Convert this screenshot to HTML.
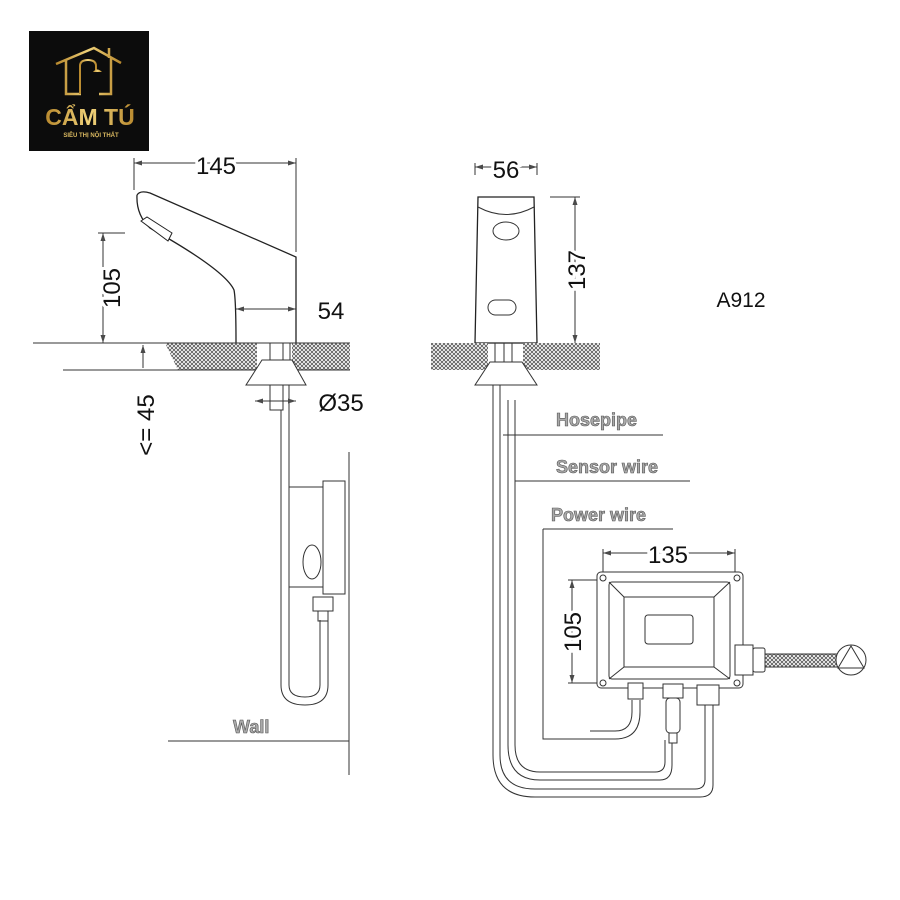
<!DOCTYPE html>
<html><head><meta charset="utf-8"><style>
html,body{margin:0;padding:0;background:#fff;width:900px;height:900px;overflow:hidden}
</style></head><body>
<svg width="900" height="900" viewBox="0 0 900 900" xmlns="http://www.w3.org/2000/svg" font-family="Liberation Sans, DejaVu Sans, sans-serif">
<defs>
<pattern id="h" width="4" height="4" patternUnits="userSpaceOnUse">
<rect width="4" height="4" fill="#fff"/><path d="M0 0L4 4M4 0L0 4" stroke="#555" stroke-width="0.8"/>
</pattern>
<linearGradient id="g" x1="0" x2="1"><stop offset="0" stop-color="#b8892e"/><stop offset="0.5" stop-color="#f0d27a"/><stop offset="1" stop-color="#b8892e"/></linearGradient>
</defs>
<!-- logo -->
<rect x="29" y="31" width="120" height="120" fill="#0c0c0c"/>
<path d="M56 64 L94 48 L121 63 M66 60 V94 H81 M99 94 H111 V57 M109 48 V58" stroke="url(#g)" stroke-width="2.5" fill="none"/>
<path d="M80 94 V66 Q80 60 88 60 Q96 60 96 66 V70" stroke="url(#g)" stroke-width="2" fill="none"/>
<path d="M93 72 Q97 67 102 72 Z" fill="url(#g)"/>
<path d="M92 90 V94" stroke="url(#g)" stroke-width="2"/>
<text x="90" y="125" text-anchor="middle" font-size="23" font-weight="bold" fill="url(#g)">CẨM TÚ</text>
<text x="91" y="137" text-anchor="middle" font-size="6" font-weight="bold" fill="#d9b860">SIÊU THỊ NỘI THẤT</text>

<g stroke="#333" stroke-width="1" fill="none">
<path d="M134 163H296M134 158V190M296 158V252"/>
<path d="M103 233V343M98 233H125"/>
<path d="M236 309H296"/>
<path d="M137 195 Q140 190 150 193 L296 257 V343 M137 195 Q136 215 150 228 Q225 270 234 290 Q236 300 236 343" stroke="#222" stroke-width="1.3"/>
<path d="M141 221 L147 217 L172 233 L168 241 Z" fill="#fff" stroke="#222"/>
<path d="M165 343H257V370H178Z" fill="url(#h)" stroke="none"/>
<path d="M292 343H350V370H292Z" fill="url(#h)" stroke="none"/>
<path d="M33 343H350M63 370H350"/>
<path d="M143 345V368"/>
<path d="M262 360H292L306 385H246Z" fill="#fff"/>
<path d="M270 343V360M283 343V360M290 343V360"/>
<path d="M270 385V410H283V385"/>
<path d="M255 401H296"/>
<path d="M281 410V685 Q281 705 305 705 Q328 705 328 685V620M289 385V685 Q289 697 305 697 Q320 697 320 685V620"/>
<rect x="289" y="487" width="34" height="100" fill="#fff"/>
<rect x="323" y="481" width="22" height="113" fill="#fff"/>
<ellipse cx="312" cy="562" rx="9" ry="17" fill="#fff"/>
<rect x="313" y="597" width="20" height="14" fill="#fff"/>
<rect x="318" y="611" width="10" height="10"/>
<path d="M349 452V775M168 741H349"/>
<path d="M475 167H537M475 163V175M537 163V175"/>
<path d="M478 197H534L537 343H475Z" fill="#fff" stroke="#222" stroke-width="1.3"/>
<path d="M478 207 Q506 222 534 207"/>
<ellipse cx="506" cy="231" rx="13" ry="9"/>
<rect x="488" y="300" width="28" height="15" rx="7.5"/>
<path d="M550 197H580M575 197V343"/>
<path d="M431 343H488V370H431Z" fill="url(#h)" stroke="none"/>
<path d="M523 343H600V370H523Z" fill="url(#h)" stroke="none"/>
<path d="M490 362H522L537 385H475Z" fill="#fff"/>
<path d="M495 343V362M504 343V362M512 343V362"/>
<path d="M493 385V755 Q493 797 535 797H700 Q713 797 713 785V700"/>
<path d="M500 385V755 Q500 789 535 789H695 Q705 789 705 780V700"/>
<path d="M508 400V745 Q508 780 540 780H660 Q672 780 672 765V740"/>
<path d="M515 400V745 Q515 772 540 772H655 Q665 772 665 762V740"/>
<path d="M503 435H663M515 481H690M543 529H673M543 529V739H590"/>
<path d="M590 731H615 Q632 731 632 712V700M590 739H615 Q640 739 640 712V700"/>
<path d="M603 553H735M603 549V572M735 549V572"/>
<path d="M568 580H598M568 683H598M572 580V683"/>
<rect x="597" y="572" width="146" height="116" rx="4" fill="#fff"/>
<rect x="609" y="582" width="121" height="97" rx="3"/>
<rect x="624" y="597" width="90" height="70"/>
<path d="M609 582L624 597M730 582L714 597M609 679L624 667M730 679L714 667"/>
<rect x="645" y="615" width="48" height="29" rx="3"/>
<circle cx="603" cy="578" r="3"/><circle cx="737" cy="578" r="3"/><circle cx="603" cy="683" r="3"/><circle cx="737" cy="683" r="3"/>
<rect x="735" y="645" width="18" height="30" fill="#fff"/>
<rect x="753" y="648" width="12" height="24" rx="2" fill="#fff"/>
<rect x="765" y="654" width="73" height="13" fill="url(#h)"/>
<circle cx="851" cy="660" r="15" fill="#fff"/>
<path d="M851 646L864 668H838Z"/>
<rect x="628" y="683" width="15" height="16" fill="#fff"/>
<rect x="663" y="684" width="20" height="14" fill="#fff"/>
<rect x="666" y="698" width="14" height="35" rx="4" fill="#fff"/>
<rect x="669" y="733" width="8" height="10" fill="#fff"/>
<rect x="697" y="685" width="22" height="20" fill="#fff"/>
</g>
<g fill="#4a4a4a" stroke="none">
<path d="M134 163l8 -2.5v5zM296 163l-8 -2.5v5zM103 233l-2.5 8h5zM103 343l-2.5 -8h5zM236 309l8 -2.5v5zM296 309l-8 -2.5v5zM143 345l-2.5 8h5zM255 401l8 -2.5v5zM296 401l-8 -2.5v5zM475 167l8 -2.5v5zM537 167l-8 -2.5v5zM575 197l-2.5 8h5zM575 343l-2.5 -8h5zM603 553l8 -2.5v5zM735 553l-8 -2.5v5zM572 580l-2.5 8h5zM572 683l-2.5 -8h5z"/>
</g>
<g fill="#111" font-size="24">
<text x="216" y="174" text-anchor="middle" fill="#fff" stroke="#fff" stroke-width="6">145</text>
<text x="216" y="174" text-anchor="middle">145</text>
<text x="331" y="319" text-anchor="middle">54</text>
<text x="341" y="411" text-anchor="middle">Ø35</text>
<text transform="translate(120 288) rotate(-90)" text-anchor="middle" fill="#fff" stroke="#fff" stroke-width="6">105</text>
<text transform="translate(120 288) rotate(-90)" text-anchor="middle">105</text>
<text transform="translate(154 425) rotate(-90)" text-anchor="middle">&lt;= 45</text>
<text x="506" y="178" text-anchor="middle" fill="#fff" stroke="#fff" stroke-width="6">56</text>
<text x="506" y="178" text-anchor="middle">56</text>
<text transform="translate(585 270) rotate(-90)" text-anchor="middle" fill="#fff" stroke="#fff" stroke-width="6">137</text>
<text transform="translate(585 270) rotate(-90)" text-anchor="middle">137</text>
<text x="741" y="307" text-anchor="middle" font-size="21">A912</text>
<text x="668" y="563" text-anchor="middle" fill="#fff" stroke="#fff" stroke-width="6">135</text>
<text x="668" y="563" text-anchor="middle">135</text>
<text transform="translate(581 632) rotate(-90)" text-anchor="middle" fill="#fff" stroke="#fff" stroke-width="6">105</text>
<text transform="translate(581 632) rotate(-90)" text-anchor="middle">105</text>
</g>
<g font-size="18" fill="#aaa" stroke="#555" stroke-width="0.6" font-weight="bold">
<text x="556" y="426">Hosepipe</text>
<text x="556" y="473">Sensor wire</text>
<text x="551" y="521">Power wire</text>
<text x="233" y="733">Wall</text>
</g>
</svg>
</body></html>
